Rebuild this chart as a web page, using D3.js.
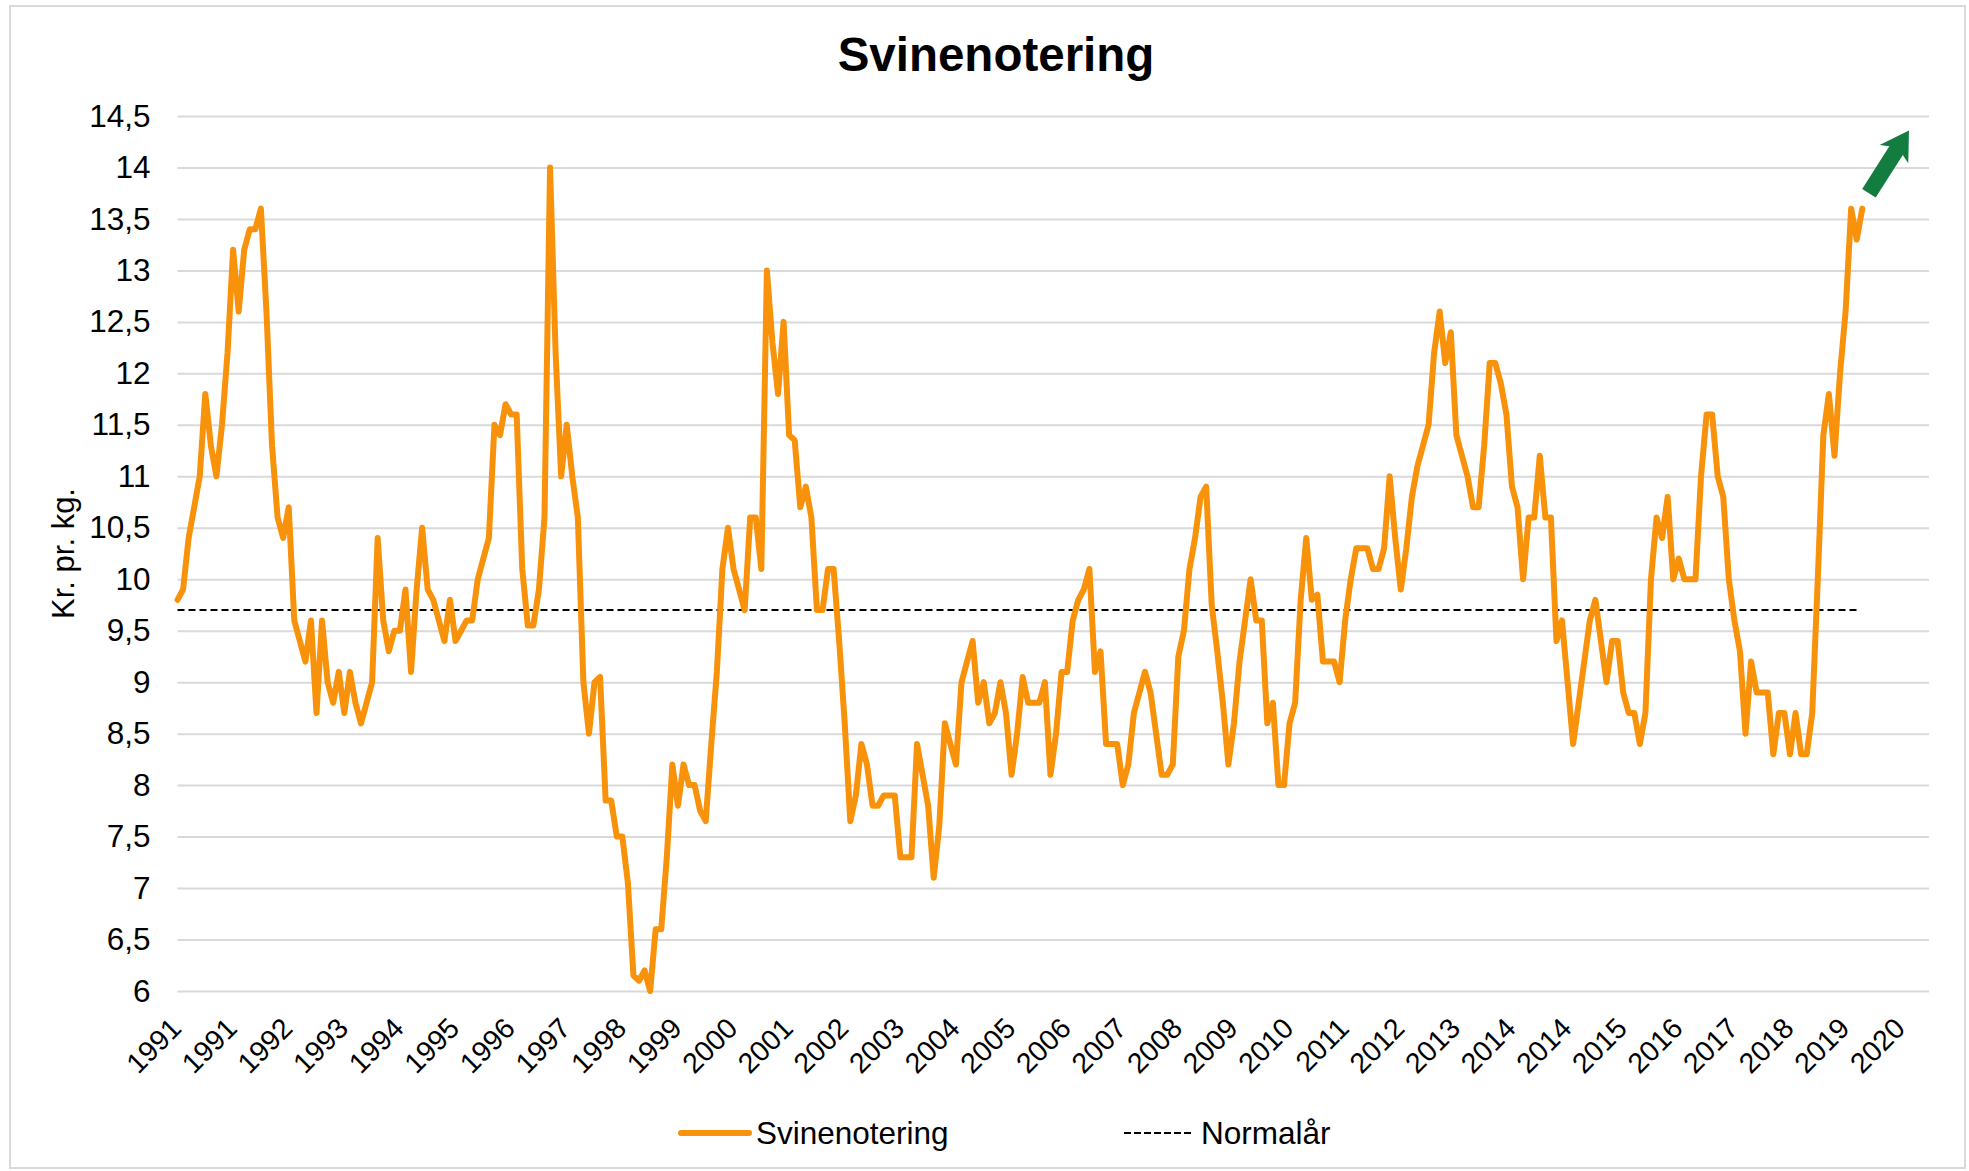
<!DOCTYPE html>
<html>
<head>
<meta charset="utf-8">
<script src="https://cdn.jsdelivr.net/npm/d3@7"></script>
<style>
  body { margin: 0; background: #fff; }
  text { font-family: "Liberation Sans", Arial, sans-serif; fill: #000; }
</style>
</head>
<body>
<svg width="1969" height="1171"></svg>
<script>
// x-axis labels, one every 10 points
var yearLabels = ["1991","1991","1992","1993","1994","1995","1996","1997","1998","1999",
  "2000","2001","2002","2003","2004","2005","2006","2007","2008","2009","2010","2011",
  "2012","2013","2014","2014","2015","2016","2017","2018","2019","2020"];

var yTicks = [6, 6.5, 7, 7.5, 8, 8.5, 9, 9.5, 10, 10.5, 11, 11.5, 12, 12.5, 13, 13.5, 14, 14.5];

// Svinenotering, kr. pr. kg.
var svinenotering = [
  9.8, 9.9, 10.4, 10.7, 11.0, 11.8, 11.3, 11.0, 11.5, 12.2,
  13.2, 12.6, 13.2, 13.4, 13.4, 13.6, 12.6, 11.3, 10.6, 10.4,
  10.7, 9.6, 9.4, 9.2, 9.6, 8.7, 9.6, 9.0, 8.8, 9.1,
  8.7, 9.1, 8.8, 8.6, 8.8, 9.0, 10.4, 9.6, 9.3, 9.5,
  9.5, 9.9, 9.1, 9.9, 10.5, 9.9, 9.8, 9.6, 9.4, 9.8,
  9.4, 9.5, 9.6, 9.6, 10.0, 10.2, 10.4, 11.5, 11.4, 11.7,
  11.6, 11.6, 10.1, 9.55, 9.55, 9.9, 10.6, 14.0, 12.2, 11.0,
  11.5, 11.0, 10.6, 9.0, 8.5, 9.0, 9.05, 7.85, 7.85, 7.5,
  7.5, 7.05, 6.15, 6.1, 6.2, 6.0, 6.6, 6.6, 7.3, 8.2,
  7.8, 8.2, 8.0, 8.0, 7.75, 7.65, 8.4, 9.1, 10.1, 10.5,
  10.1, 9.9, 9.7, 10.6, 10.6, 10.1, 13.0, 12.3, 11.8, 12.5,
  11.4, 11.35, 10.7, 10.9, 10.6, 9.7, 9.7, 10.1, 10.1, 9.4,
  8.6, 7.65, 7.9, 8.4, 8.2, 7.8, 7.8, 7.9, 7.9, 7.9,
  7.3, 7.3, 7.3, 8.4, 8.1, 7.8, 7.1, 7.6, 8.6, 8.4,
  8.2, 9.0, 9.2, 9.4, 8.8, 9.0, 8.6, 8.7, 9.0, 8.7,
  8.1, 8.5, 9.05, 8.8, 8.8, 8.8, 9.0, 8.1, 8.5, 9.1,
  9.1, 9.6, 9.8, 9.9, 10.1, 9.1, 9.3, 8.4, 8.4, 8.4,
  8.0, 8.2, 8.7, 8.9, 9.1, 8.9, 8.5, 8.1, 8.1, 8.2,
  9.25, 9.5, 10.1, 10.4, 10.8, 10.9, 9.75, 9.3, 8.8, 8.2,
  8.6, 9.2, 9.6, 10.0, 9.6, 9.6, 8.6, 8.8, 8.0, 8.0,
  8.6, 8.8, 9.8, 10.4, 9.8, 9.85, 9.2, 9.2, 9.2, 9.0,
  9.6, 10.0, 10.3, 10.3, 10.3, 10.1, 10.1, 10.3, 11.0, 10.4,
  9.9, 10.3, 10.8, 11.1, 11.3, 11.5, 12.2, 12.6, 12.1, 12.4,
  11.4, 11.2, 11.0, 10.7, 10.7, 11.3, 12.1, 12.1, 11.9, 11.6,
  10.9, 10.7, 10.0, 10.6, 10.6, 11.2, 10.6, 10.6, 9.4, 9.6,
  9.0, 8.4, 8.8, 9.2, 9.6, 9.8, 9.4, 9.0, 9.4, 9.4,
  8.9, 8.7, 8.7, 8.4, 8.7, 10.0, 10.6, 10.4, 10.8, 10.0,
  10.2, 10.0, 10.0, 10.0, 11.0, 11.6, 11.6, 11.0, 10.8, 10.0,
  9.6, 9.3, 8.5, 9.2, 8.9, 8.9, 8.9, 8.3, 8.7, 8.7,
  8.3, 8.7, 8.3, 8.3, 8.7, 10.0, 11.4, 11.8, 11.2, 12.0,
  12.6, 13.6, 13.3, 13.6
];

var normalaar = 9.7;

var svg = d3.select("svg"),
    width = +svg.attr("width"),
    height = +svg.attr("height");

var orange = "#f8920a",
    grid = "#d9d9d9";

var x = d3.scaleLinear().domain([0, 315]).range([177.5, 1929]);
var y = d3.scaleLinear().domain([6, 14.5]).range([991, 116]);

// chart border
svg.append("rect")
    .attr("x", 10).attr("y", 6)
    .attr("width", width - 14).attr("height", height - 9)
    .attr("fill", "none").attr("stroke", grid).attr("stroke-width", 2);

svg.append("text")
    .attr("x", 996).attr("y", 71)
    .attr("text-anchor", "middle")
    .style("font-size", "47.5px").style("font-weight", "bold")
    .text("Svinenotering");

// y axis + gridlines
var yAxis = svg.append("g")
    .attr("transform", "translate(" + x(0) + ",0)")
    .call(d3.axisLeft(y)
        .tickValues(yTicks)
        .tickSize(-(x(315) - x(0)))
        .tickPadding(27)
        .tickFormat(function(d) { return String(d).replace(".", ","); }));
yAxis.select(".domain").remove();
yAxis.selectAll(".tick line").attr("stroke", grid).attr("stroke-width", 2);
yAxis.selectAll(".tick text").style("font-size", "31.5px");

svg.append("text")
    .attr("transform", "translate(74," + ((y(6) + y(14.5)) / 2) + ") rotate(-90)")
    .attr("text-anchor", "middle")
    .style("font-size", "31px")
    .text("Kr. pr. kg.");

// x axis labels
var xAxis = svg.append("g")
    .attr("transform", "translate(0," + y(6) + ")")
    .call(d3.axisBottom(x)
        .tickValues(yearLabels.map(function(d, i) { return i * 10; }))
        .tickSize(0)
        .tickFormat(function(d) { return yearLabels[d / 10]; }));
xAxis.select(".domain").remove();
xAxis.selectAll(".tick text")
    .attr("y", 0).attr("dy", "0.35em")
    .attr("transform", "translate(-2,32) rotate(-45)")
    .attr("text-anchor", "end")
    .style("font-size", "28.5px");

// Normalår
svg.append("line")
    .attr("x1", x(0)).attr("x2", x(svinenotering.length - 2))
    .attr("y1", y(normalaar)).attr("y2", y(normalaar))
    .attr("stroke", "#000").attr("stroke-width", 2)
    .attr("stroke-dasharray", "7,4");

var line = d3.line()
    .x(function(d, i) { return x(i); })
    .y(function(d) { return y(d); });

svg.append("path")
    .datum(svinenotering)
    .attr("d", line)
    .attr("fill", "none")
    .attr("stroke", orange)
    .attr("stroke-width", 6)
    .attr("stroke-linejoin", "round")
    .attr("stroke-linecap", "round");

// green arrow
var tail = [x(304.2), y(13.75)], tip = [x(311.4), y(14.36)];
var ang = Math.atan2(tip[1] - tail[1], tip[0] - tail[0]);
var len = Math.hypot(tip[0] - tail[0], tip[1] - tail[1]);
var sw = 8, hw = 17, hl = 24;
var pts = [[0, -sw], [len - hl, -sw], [len - hl - 4, -hw], [len, 0], [len - hl - 4, hw], [len - hl, sw], [0, sw]];
svg.append("polygon")
    .attr("points", pts.map(function(p) { return p.join(","); }).join(" "))
    .attr("transform", "translate(" + tail[0] + "," + tail[1] + ") rotate(" + (ang * 180 / Math.PI) + ")")
    .attr("fill", "#137c3f");

// legend
var legend = svg.append("g");
legend.append("line")
    .attr("x1", 681).attr("x2", 749).attr("y1", 1133).attr("y2", 1133)
    .attr("stroke", orange).attr("stroke-width", 6).attr("stroke-linecap", "round");
legend.append("text")
    .attr("x", 756).attr("y", 1144)
    .style("font-size", "31.5px")
    .text("Svinenotering");
legend.append("line")
    .attr("x1", 1124).attr("x2", 1194).attr("y1", 1133).attr("y2", 1133)
    .attr("stroke", "#000").attr("stroke-width", 2)
    .attr("stroke-dasharray", "7,3");
legend.append("text")
    .attr("x", 1201).attr("y", 1144)
    .style("font-size", "31.5px")
    .text("Normalår");
</script>
</body>
</html>
